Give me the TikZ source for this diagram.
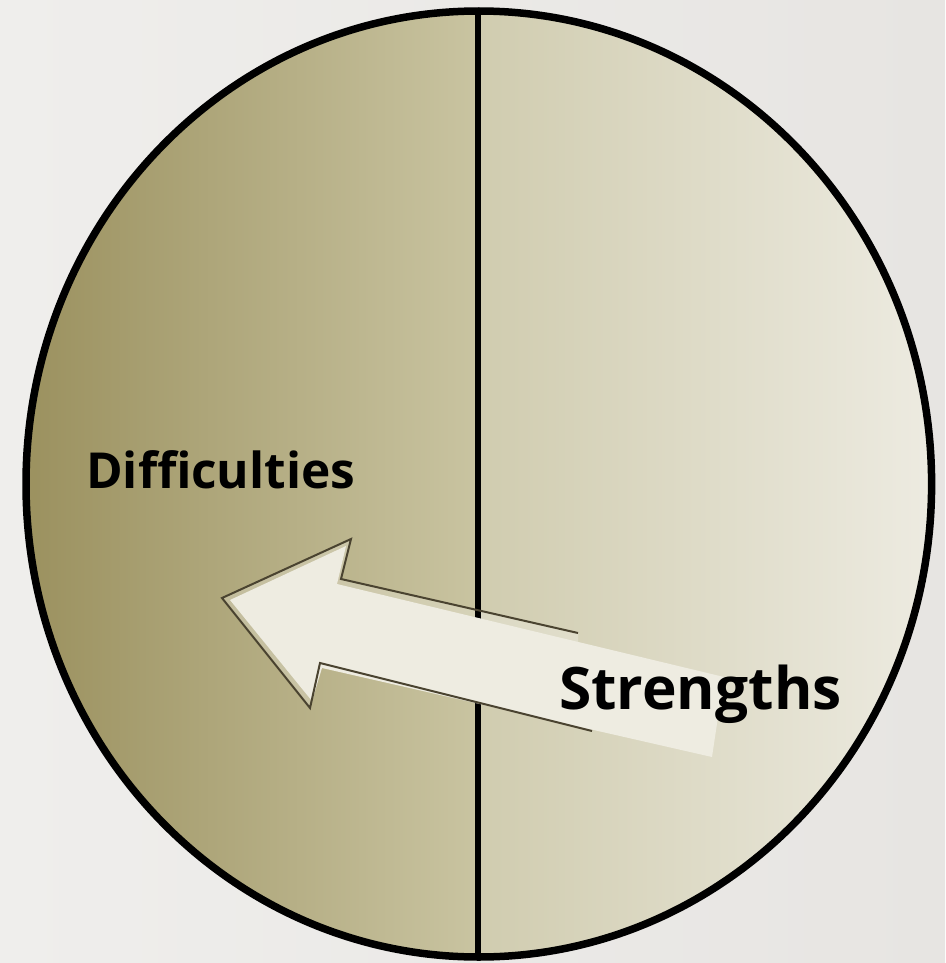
\documentclass[tikz,border=0pt]{standalone}
\usepackage{fontspec}
\setmainfont{Open Sans}
\definecolor{bgl}{HTML}{EFEEEC}
\definecolor{bgr}{HTML}{E7E5E2}
\definecolor{la}{HTML}{9B915F}
\definecolor{lb}{HTML}{C9C4A1}
\definecolor{ra}{HTML}{D0CCAF}
\definecolor{rb}{HTML}{EDEBE1}
\definecolor{arrowfill}{HTML}{EEECE1}
\definecolor{arrowline}{HTML}{4A4330}
\begin{document}
\begin{tikzpicture}[x=1pt,y=-1pt,
  labeltext/.style={font=\bfseries\fontsize{#1}{#1}\selectfont, anchor=base west, inner sep=0pt, text=black},
  rim/.style={draw=black, line width=7.5pt},
  divider/.style={draw=black, line width=5.5pt},
  arrowband/.style={fill=white, fill opacity=0.25},
  arrowbody/.style={fill=arrowfill},
  arrowedge/.style={draw=arrowline, line width=2pt, line join=miter}]
\useasboundingbox (0,0) rectangle (945,963);
\shade[left color=bgl, right color=bgr] (0,0) rectangle (945,963);
\coordinate (c) at (478.8,484);
\begin{scope}
\clip (c) ellipse [x radius=452.8, y radius=473];
\shade[left color=la, right color=lb] (26,0) rectangle (478,963);
\shade[left color=ra, right color=rb] (478,0) rectangle (932,963);
\end{scope}
% arrow outline points
\coordinate (T) at (222,598);
\coordinate (UB) at (351,539);
\coordinate (UN) at (341,579);
\coordinate (UE) at (578,633);
\coordinate (LB) at (310,708);
\coordinate (LN) at (320,663);
\coordinate (LE) at (592,731);
% arrow body points
\coordinate (T2) at (230,600);
\coordinate (UB2) at (346,546);
\coordinate (UN2) at (337,584);
\coordinate (TR) at (724,677);
\coordinate (BR) at (712,757);
\coordinate (LN2) at (322,668);
\coordinate (LB2) at (312,701);
\fill[arrowband] (T) -- (UB) -- (UN) -- (UE) -- (578,641) -- (592,729) -- (LE) -- (LN) -- (LB) -- cycle;
\coordinate (vtop) at (478,11);
\coordinate (vbot) at (478,957);
\draw[divider] (vtop) -- (vbot);
\draw[rim] (c) ellipse [x radius=452.8, y radius=473];
\fill[arrowbody] (T2) -- (UB2) -- (UN2) -- (TR) -- (BR) -- (LN2) -- (LB2) -- cycle;
\draw[arrowedge] (UE) -- (UN) -- (UB) -- (T) -- (LB) -- (LN) -- (LE);
\node[labeltext=49.6] (diff) at (86,488) {Difficulties};
\node[labeltext=58.6] (str) at (559,709) {Strengths};
\end{tikzpicture}
\end{document}
